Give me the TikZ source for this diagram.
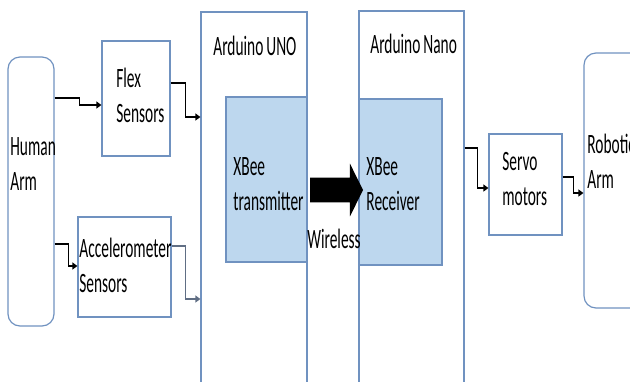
\documentclass[tikz,border=0pt]{standalone}
\usepackage{fontspec}
\newfontfamily\labelfont[FakeStretch=0.55]{Carlito}
\newcommand\lblfont{\labelfont\fontsize{14pt}{17.5pt}\selectfont}
\usetikzlibrary{arrows.meta, fit, shapes.arrows}
\definecolor{boxline}{RGB}{112,146,192}
\definecolor{chipfill}{RGB}{189,215,238}
\definecolor{grayline}{RGB}{96,110,132}

\begin{document}
\begin{tikzpicture}[x=0.5pt, y=-0.5pt,
    block/.style={draw=boxline, line width=0.6pt, inner sep=0pt},
    limb/.style={block, rounded corners=6pt},
    chip/.style={block, fill=chipfill},
    lbl/.style={font=\lblfont, anchor=base west, align=left, text width=3cm, inner sep=0pt},
    conn/.style={line width=0.6pt, -{Triangle[length=2.5pt, width=3.5pt]}}]
\useasboundingbox (0,0) rectangle (630,381);

% boxes
\node[limb, fit={(8,57) (54,326)}] (human) {};
\node[block, fit={(102,41) (170,156)}] (flex) {};
\node[block, fit={(78,217) (171,317)}] (accel) {};
\node[block, fit={(201,12) (307,390)}] (uno) {};
\node[chip, fit={(226,97) (307,262)}] (tx) {};
\node[block, fit={(359,11) (464,390)}] (nano) {};
\node[chip, fit={(359,99) (442,265)}] (rx) {};
\node[block, fit={(489,134) (562,235)}] (servo) {};
\node[limb, fit={(584,53) (664,308)}] (robot) {};

% wireless link
\node[single arrow, fill=black, inner sep=6pt, minimum height=26.5pt,
      single arrow head extend=7pt, single arrow tip angle=127] (link) at (333.5,190) {};

% labels
\node[lbl] (humanlbl) at (10,155) {Human\\Arm};
\node[lbl] (flexlbl) at (116,87) {Flex\\Sensors};
\node[lbl] (accellbl) at (79,257) {Accelerometer\\Sensors};
\node[lbl] (unolbl) at (213,55) {Arduino\hspace{1.5pt}UNO};
\node[lbl] (txlbl) at (233,175) {XBee\\transmitter};
\node[lbl] (nanolbl) at (370,53) {Arduino\hspace{1.5pt}Nano};
\node[lbl] (rxlbl) at (366,175) {XBee\\Receiver};
\node[lbl] (linklbl) at (307,248) {Wireless};
\node[lbl] (servolbl) at (502,170) {Servo\\motors};
\node[lbl] (robotlbl) at (587,153) {Robotic\\Arm};

% connectors
\draw[conn] (human.east |- 0,98) -- ++(25,0) |- (flex.west |- 0,105);
\draw[conn] (flex.east |- 0,83) -- ++(15,0) |- (uno.west |- 0,117);
\draw[conn] (human.east |- 0,244) -- ++(14,0) |- (accel.west |- 0,266);
\draw[conn, grayline] (accel.east |- 0,246) -- ++(14,0) |- (uno.west |- 0,299);
\draw[conn] (nano.east |- 0,148) -- ++(13,0) |- (servo.west |- 0,188);
\draw[conn] (servo.east |- 0,177) -- ++(11,0) |- (robot.west |- 0,193);
\end{tikzpicture}
\end{document}
